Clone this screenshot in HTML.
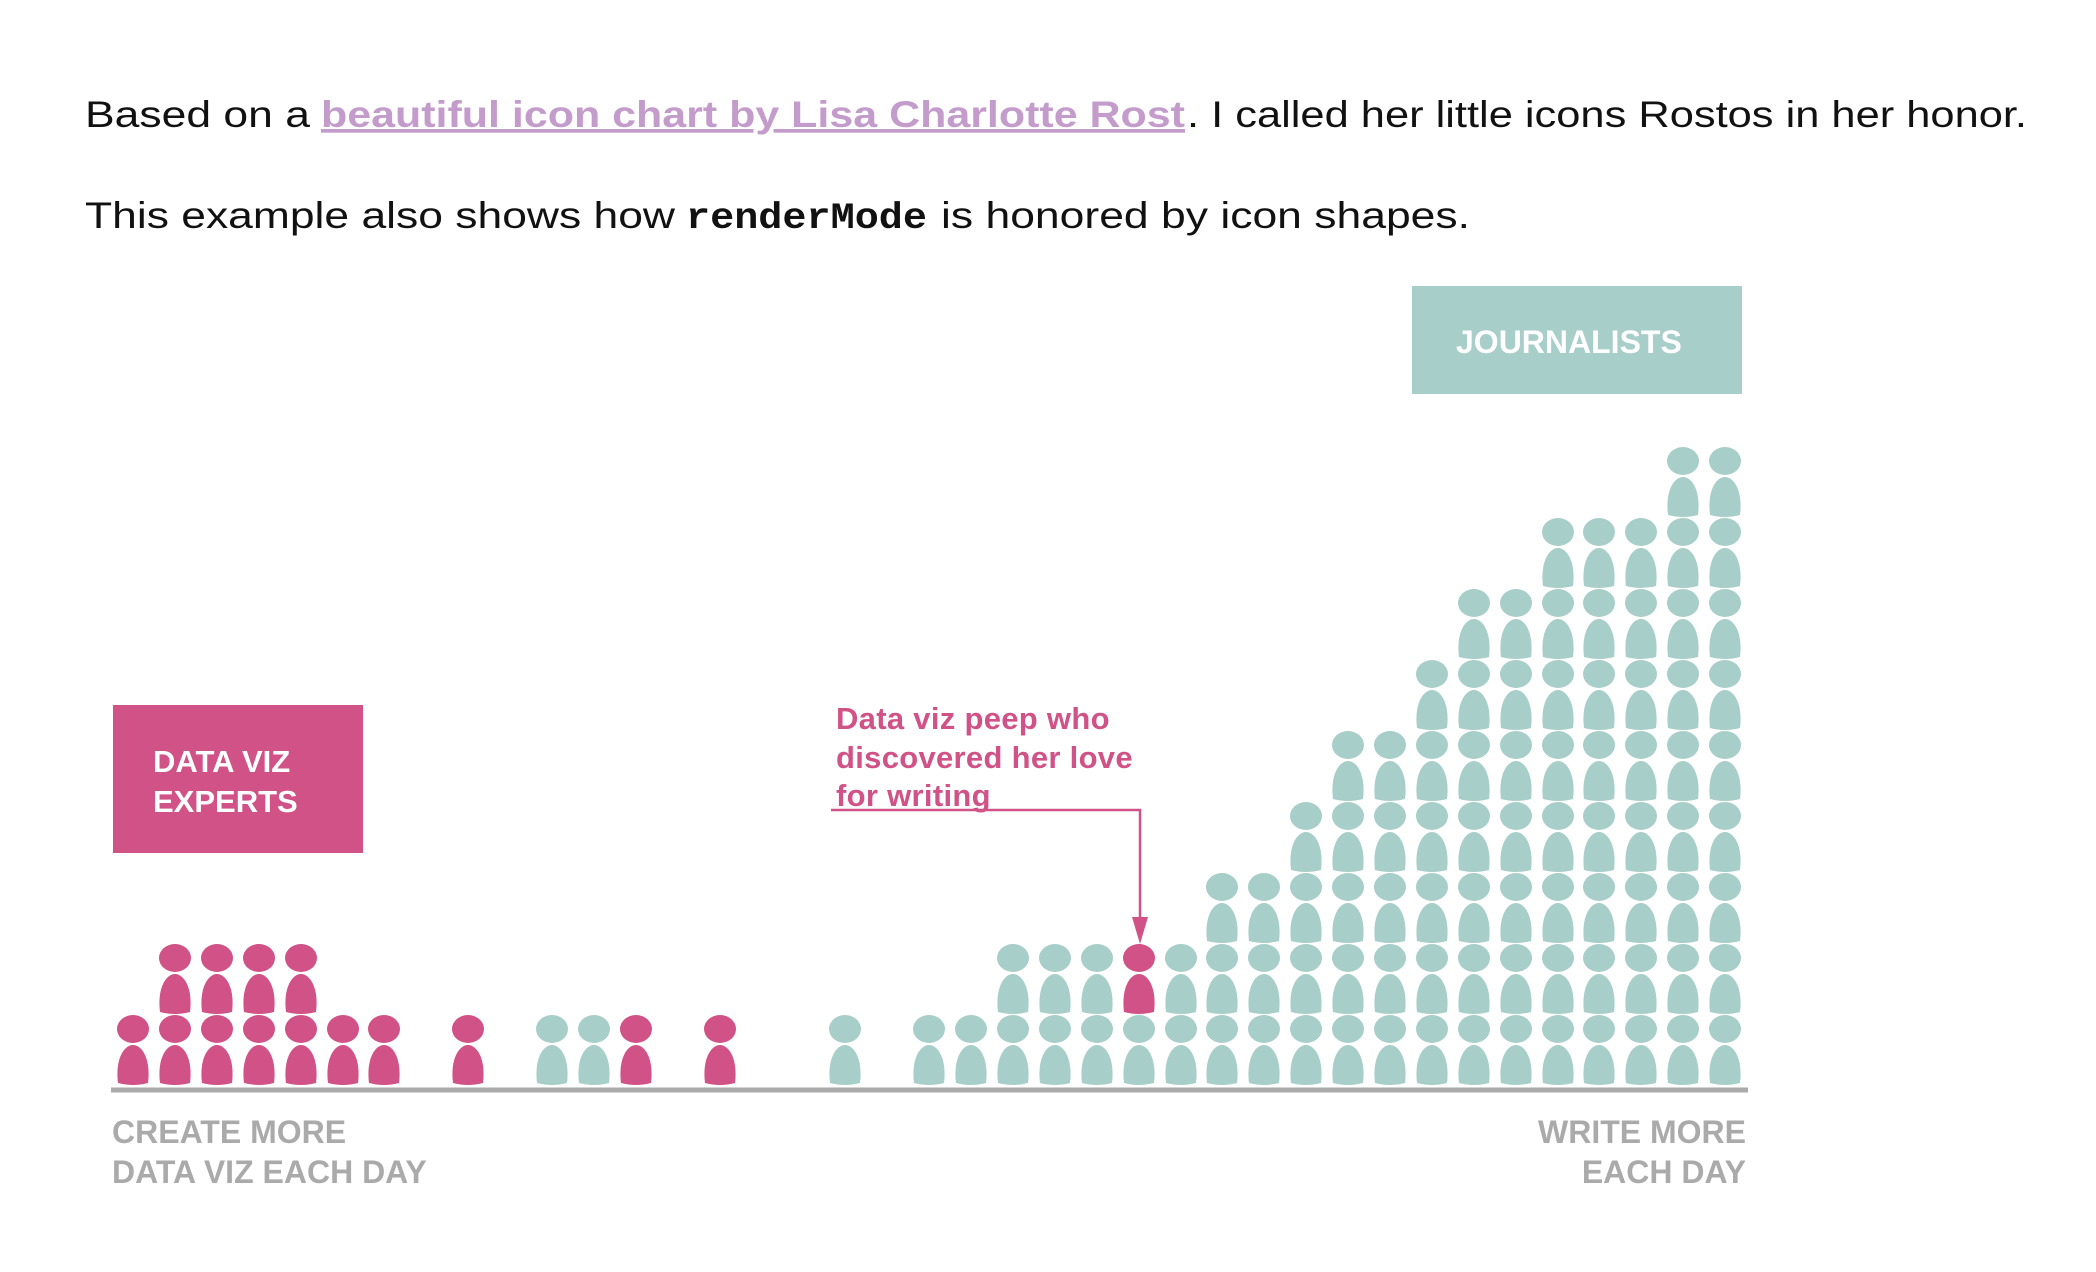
<!DOCTYPE html>
<html><head><meta charset="utf-8"><style>
html,body{margin:0;padding:0;background:#fff;}
svg{display:block;}
</style></head><body>
<svg width="2096" height="1272" viewBox="0 0 2096 1272" xmlns="http://www.w3.org/2000/svg">
<defs>
<g id="i">
<ellipse cx="0" cy="0" rx="16" ry="14"/>
<path d="M-15,54 C-18,30 -9,16 0,16 C9,16 18,30 15,54 Q0,58 -15,54 Z"/>
</g>
</defs>
<g font-family="Liberation Sans, sans-serif" font-size="37" fill="#111">
<text x="85" y="127" textLength="225" lengthAdjust="spacingAndGlyphs">Based on a</text>
<text x="321" y="127" textLength="864" lengthAdjust="spacingAndGlyphs" fill="#c49ccb" font-weight="bold" text-decoration="underline">beautiful icon chart by Lisa Charlotte Rost</text>
<text x="1187" y="127" textLength="840" lengthAdjust="spacingAndGlyphs">. I called her little icons Rostos in her honor.</text>
<text x="85" y="228" textLength="590" lengthAdjust="spacingAndGlyphs">This example also shows how</text>
<text x="686" y="228" textLength="241" lengthAdjust="spacingAndGlyphs" font-family="Liberation Mono, monospace" font-weight="bold">renderMode</text>
<text x="941" y="228" textLength="529" lengthAdjust="spacingAndGlyphs">is honored by icon shapes.</text>
</g>

<rect x="1412" y="286" width="330" height="108" fill="#a8cec9"/>
<text x="1456" y="353" font-family="Liberation Sans, sans-serif" font-weight="bold" font-size="32" fill="#fff">JOURNALISTS</text>

<rect x="113" y="705" width="250" height="148" fill="#d05287"/>
<text font-family="Liberation Sans, sans-serif" font-weight="bold" font-size="31" fill="#fff"><tspan x="153" y="772">DATA VIZ</tspan><tspan x="153" y="812">EXPERTS</tspan></text>

<text font-family="Liberation Sans, sans-serif" font-weight="bold" font-size="31" fill="#d05287" letter-spacing="0.3"><tspan x="836" y="729">Data viz peep who</tspan><tspan x="836" y="768">discovered her love</tspan><tspan x="836" y="806">for writing</tspan></text>
<polyline points="831,810 1140,810 1140,925" fill="none" stroke="#d05287" stroke-width="2.5"/>
<polygon points="1132,917 1148,917 1140,944" fill="#d05287"/>

<line x1="111" y1="1090" x2="1748" y2="1090" stroke="#aaaaaa" stroke-width="5"/>
<text font-family="Liberation Sans, sans-serif" font-weight="bold" font-size="32" fill="#aaaaaa"><tspan x="112" y="1143">CREATE MORE</tspan><tspan x="112" y="1183">DATA VIZ EACH DAY</tspan></text>
<text font-family="Liberation Sans, sans-serif" font-weight="bold" font-size="32" fill="#aaaaaa" text-anchor="end"><tspan x="1746" y="1143">WRITE MORE</tspan><tspan x="1746" y="1183">EACH DAY</tspan></text>

<g fill="#d05287">
<use href="#i" x="133" y="1029"/>
<use href="#i" x="175" y="1029"/><use href="#i" x="175" y="958"/>
<use href="#i" x="217" y="1029"/><use href="#i" x="217" y="958"/>
<use href="#i" x="259" y="1029"/><use href="#i" x="259" y="958"/>
<use href="#i" x="301" y="1029"/><use href="#i" x="301" y="958"/>
<use href="#i" x="343" y="1029"/>
<use href="#i" x="384" y="1029"/>
<use href="#i" x="468" y="1029"/>
<use href="#i" x="636" y="1029"/>
<use href="#i" x="720" y="1029"/>
<use href="#i" x="1139" y="958"/>
</g>
<g fill="#a8cec9">
<use href="#i" x="552" y="1029"/>
<use href="#i" x="594" y="1029"/>
<use href="#i" x="845" y="1029"/>
<use href="#i" x="929" y="1029"/>
<use href="#i" x="971" y="1029"/>
<use href="#i" x="1013" y="1029"/><use href="#i" x="1013" y="958"/>
<use href="#i" x="1055" y="1029"/><use href="#i" x="1055" y="958"/>
<use href="#i" x="1097" y="1029"/><use href="#i" x="1097" y="958"/>
<use href="#i" x="1139" y="1029"/>
<use href="#i" x="1181" y="1029"/><use href="#i" x="1181" y="958"/>
<g transform="translate(1222,0)"><use href="#i" y="1029"/><use href="#i" y="958"/><use href="#i" y="887"/></g>
<g transform="translate(1264,0)"><use href="#i" y="1029"/><use href="#i" y="958"/><use href="#i" y="887"/></g>
<g transform="translate(1306,0)"><use href="#i" y="1029"/><use href="#i" y="958"/><use href="#i" y="887"/><use href="#i" y="816"/></g>
<g transform="translate(1348,0)"><use href="#i" y="1029"/><use href="#i" y="958"/><use href="#i" y="887"/><use href="#i" y="816"/><use href="#i" y="745"/></g>
<g transform="translate(1390,0)"><use href="#i" y="1029"/><use href="#i" y="958"/><use href="#i" y="887"/><use href="#i" y="816"/><use href="#i" y="745"/></g>
<g transform="translate(1432,0)"><use href="#i" y="1029"/><use href="#i" y="958"/><use href="#i" y="887"/><use href="#i" y="816"/><use href="#i" y="745"/><use href="#i" y="674"/></g>
<g transform="translate(1474,0)"><use href="#i" y="1029"/><use href="#i" y="958"/><use href="#i" y="887"/><use href="#i" y="816"/><use href="#i" y="745"/><use href="#i" y="674"/><use href="#i" y="603"/></g>
<g transform="translate(1516,0)"><use href="#i" y="1029"/><use href="#i" y="958"/><use href="#i" y="887"/><use href="#i" y="816"/><use href="#i" y="745"/><use href="#i" y="674"/><use href="#i" y="603"/></g>
<g transform="translate(1558,0)"><use href="#i" y="1029"/><use href="#i" y="958"/><use href="#i" y="887"/><use href="#i" y="816"/><use href="#i" y="745"/><use href="#i" y="674"/><use href="#i" y="603"/><use href="#i" y="532"/></g>
<g transform="translate(1599,0)"><use href="#i" y="1029"/><use href="#i" y="958"/><use href="#i" y="887"/><use href="#i" y="816"/><use href="#i" y="745"/><use href="#i" y="674"/><use href="#i" y="603"/><use href="#i" y="532"/></g>
<g transform="translate(1641,0)"><use href="#i" y="1029"/><use href="#i" y="958"/><use href="#i" y="887"/><use href="#i" y="816"/><use href="#i" y="745"/><use href="#i" y="674"/><use href="#i" y="603"/><use href="#i" y="532"/></g>
<g transform="translate(1683,0)"><use href="#i" y="1029"/><use href="#i" y="958"/><use href="#i" y="887"/><use href="#i" y="816"/><use href="#i" y="745"/><use href="#i" y="674"/><use href="#i" y="603"/><use href="#i" y="532"/><use href="#i" y="461"/></g>
<g transform="translate(1725,0)"><use href="#i" y="1029"/><use href="#i" y="958"/><use href="#i" y="887"/><use href="#i" y="816"/><use href="#i" y="745"/><use href="#i" y="674"/><use href="#i" y="603"/><use href="#i" y="532"/><use href="#i" y="461"/></g>
</g>
</svg>
</body></html>
